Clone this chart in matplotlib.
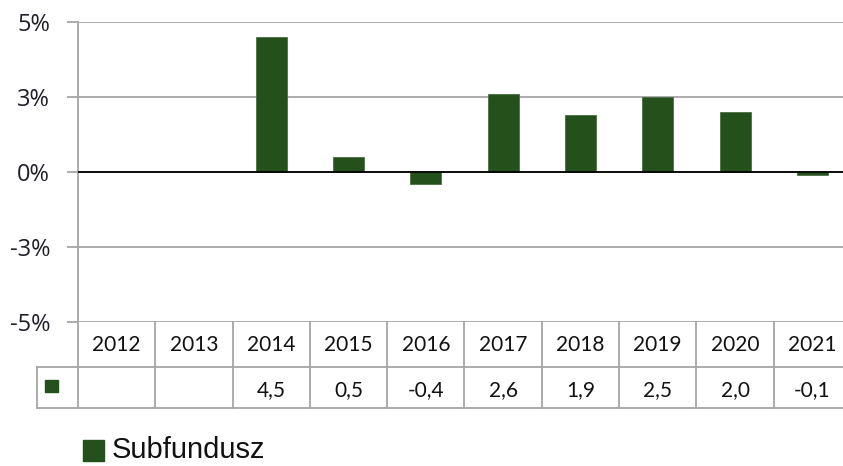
import matplotlib.pyplot as plt
from matplotlib.patches import Rectangle

years = ['2012', '2013', '2014', '2015', '2016', '2017', '2018', '2019', '2020', '2021']
values = [None, None, 4.5, 0.5, -0.4, 2.6, 1.9, 2.5, 2.0, -0.1]
yticks = [-5, -2.5, 0, 2.5, 5]
ytick_labels = ['-5%', '-3%', '0%', '3%', '5%']
series_name = 'Subfundusz'

bar_color = '#23501b'
grid_color = '#a6a6a6'

W, H = 843, 466
fig = plt.figure(figsize=(W / 100, H / 100), dpi=100)


def rect(x0, y0, x1, y1):
    # pixel box (top-left origin) -> figure fraction
    return [x0 / W, 1 - y1 / H, (x1 - x0) / W, (y1 - y0) / H]


col_w = 77.3
left = 78
right = left + len(years) * col_w

# chart
ax = fig.add_axes(rect(left, 22, right, 322))
xs = [i for i, v in enumerate(values) if v is not None]
ys = [v for v in values if v is not None]
ax.bar(xs, ys, width=0.4, color=bar_color, edgecolor='#4d6e44', linewidth=0.6, zorder=2)
ax.set_xlim(-0.5, len(years) - 0.5)
ax.set_ylim(-5, 5)
ax.set_xticks([])
ax.set_yticks(yticks, ytick_labels)
ax.yaxis.grid(True, color=grid_color, linewidth=1.3)
ax.set_axisbelow(True)
ax.axhline(0, color='black', linewidth=1.3, zorder=3)
for s in ['top', 'right', 'bottom']:
    ax.spines[s].set_visible(False)
ax.spines['left'].set_color(grid_color)
ax.spines['left'].set_linewidth(1.3)
ax.tick_params(axis='y', length=8, width=1.3, color=grid_color, pad=12,
               labelsize=17, labelcolor='#1f1f2a')
for lab in ax.get_yticklabels():
    lab.set_family('Open Sans')

# data table under the chart
tab = fig.add_axes(rect(37, 322, right, 408))
x0 = -0.5 - 41 / col_w
x1 = len(years) - 0.5
tab.set_xlim(x0, x1)
tab.set_ylim(86, 0)
tab.axis('off')
lk = dict(color=grid_color, linewidth=1.3, clip_on=False)
tab.plot([x0, x1], [45, 45], **lk)
tab.plot([x0, x1], [86, 86], **lk)
tab.plot([x0, x0], [45, 86], **lk)
for i in range(len(years) + 1):
    tab.plot([i - 0.5, i - 0.5], [0, 86], **lk)
for i, yr in enumerate(years):
    tab.text(i, 23, yr, ha='center', va='center', fontsize=15,
             family='Lato', color='#111111')
    v = values[i]
    if v is not None:
        txt = f'{v:.1f}'.replace('.', ',')
        tab.text(i, 68, txt, ha='center', va='center', fontsize=15,
                 family='Lato', color='#111111')
tab.add_patch(Rectangle((x0 + 8 / col_w, 58), 13 / col_w, 12, color=bar_color))

# legend
fig.add_artist(Rectangle((83 / W, 1 - 461 / H), 21 / W, 21 / H,
                         color=bar_color, transform=fig.transFigure))
fig.text(112 / W, 1 - 458 / H, series_name, va='baseline', fontsize=21,
         family='Liberation Sans', color='#111111')

fig.savefig('out.png', dpi=100)
